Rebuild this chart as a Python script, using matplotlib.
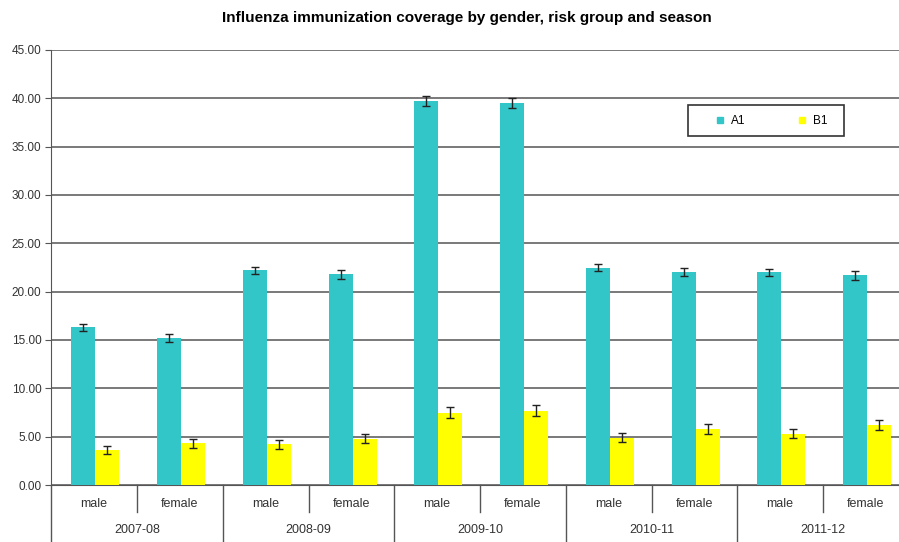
import matplotlib.pyplot as plt
import matplotlib.transforms as mtransforms
from matplotlib.lines import Line2D
from matplotlib.patches import Rectangle
import numpy as np

plt.rcParams['font.family'] = ['Liberation Sans', 'DejaVu Sans']

seasons = ['2007-08', '2008-09', '2009-10', '2010-11', '2011-12']
genders = ['male', 'female']
a1 = [16.3, 15.2, 22.2, 21.8, 39.7, 39.5, 22.5, 22.0, 22.0, 21.7]
a1_err = [0.35, 0.4, 0.35, 0.45, 0.5, 0.5, 0.35, 0.4, 0.35, 0.45]
b1 = [3.6, 4.3, 4.2, 4.8, 7.5, 7.7, 4.9, 5.8, 5.3, 6.2]
b1_err = [0.4, 0.5, 0.45, 0.5, 0.55, 0.55, 0.5, 0.55, 0.45, 0.55]
yticks = [0, 5, 10, 15, 20, 25, 30, 35, 40, 45]

A1_COLOR = '#33c6c8'
B1_COLOR = '#ffff00'
LINE = '#555555'
TXT = '#333333'

W, H = 899, 542
fig = plt.figure(figsize=(W / 100, H / 100), dpi=100)
# plot area runs past the right edge, as in the (cropped) original
ax_w = 857.5
ax = fig.add_axes([51.25 / W, (H - 485) / H, ax_w / W, 435 / H])

x = np.arange(len(a1))
bw = 0.28
ax.bar(x - 0.125, a1, bw, color=A1_COLOR, zorder=3)
ax.bar(x + 0.155, b1, bw, color=B1_COLOR, zorder=3)
ax.errorbar(x - 0.125, a1, yerr=a1_err, fmt='none', ecolor='#222222',
            elinewidth=1, capsize=3, capthick=1, zorder=4)
ax.errorbar(x + 0.155, b1, yerr=b1_err, fmt='none', ecolor='#222222',
            elinewidth=1, capsize=3, capthick=1, zorder=4)

ax.set_xlim(-0.5, len(a1) - 0.5)
ax.set_ylim(0, 45)
ax.set_yticks(yticks)
ax.set_yticklabels(['%.2f' % v for v in yticks], fontsize=8.5, color=TXT)
ax.yaxis.grid(True, color=LINE, linewidth=1.1, zorder=0)
ax.set_xticks([])
ax.tick_params(axis='y', length=4, color=LINE, pad=3)
for s in ['top', 'right']:
    ax.spines[s].set_visible(False)
for s in ['left', 'bottom']:
    ax.spines[s].set_color(LINE)

# two-level category labels below the axis
trans = mtransforms.blended_transform_factory(ax.transData, ax.transAxes)
px = 1 / 435
for i in range(len(a1)):
    ax.text(i, -19 * px, genders[i % 2], transform=trans, ha='center',
            va='center', fontsize=9, color=TXT)
for j, s in enumerate(seasons):
    ax.text(2 * j + 0.5, -45 * px, s, transform=trans, ha='center',
            va='center', fontsize=9, color=TXT)
for i in range(0, len(a1)):
    depth = 57 if i % 2 == 0 else 27
    ax.plot([i - 0.5, i - 0.5], [0, -depth * px], transform=trans,
            color=LINE, lw=1, clip_on=False)

fig.text(467 / W, (H - 18) / H,
         'Influenza immunization coverage by gender, risk group and season',
         ha='center', va='center', fontsize=11, fontweight='bold')

# legend: entries without frame, box drawn separately
handles = [Line2D([], [], ls='none', marker='s', ms=5, mfc=A1_COLOR, mec=A1_COLOR),
           Line2D([], [], ls='none', marker='s', ms=5, mfc=B1_COLOR, mec=B1_COLOR)]
fig.legend(handles, ['A1', 'B1'], loc='center left',
           bbox_to_anchor=(711 / W, (H - 121) / H), ncol=2, frameon=False,
           fontsize=8.5, handlelength=1.5, handletextpad=0.2,
           columnspacing=4.0, borderpad=0, borderaxespad=0)
fig.patches.append(Rectangle((688 / W, (H - 136) / H), 156 / W, 31 / H,
                             transform=fig.transFigure, fill=False,
                             ec=TXT, lw=1.2))

fig.savefig('out.png', dpi=100)
